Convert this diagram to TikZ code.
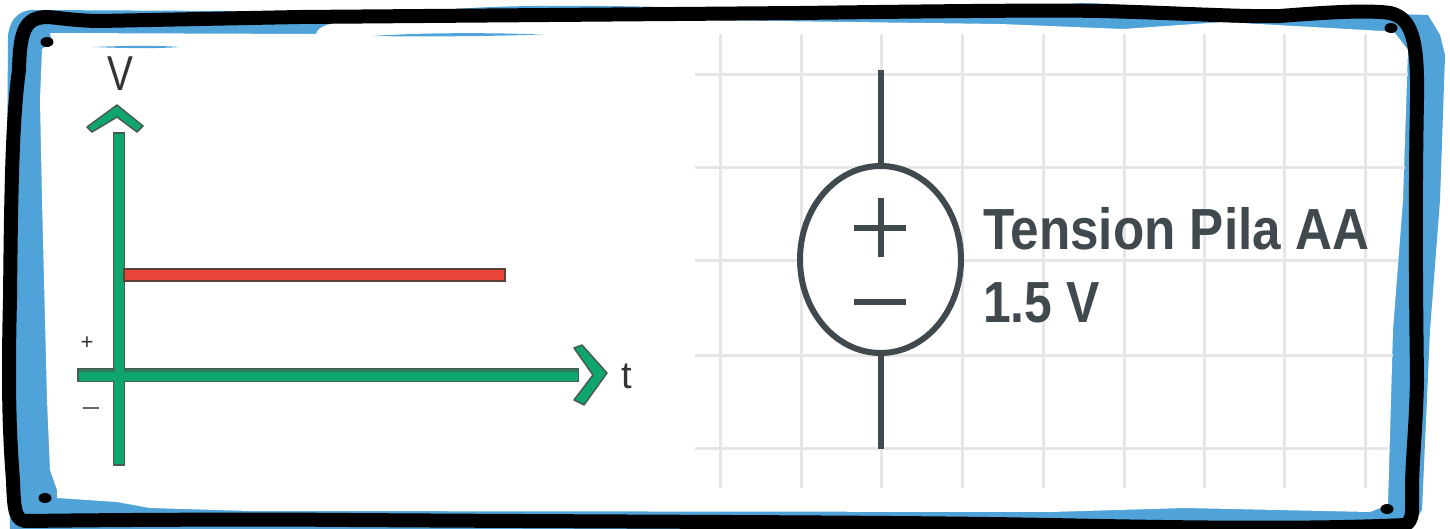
\documentclass[tikz,border=0pt]{standalone}
\usepackage{fontspec}
\setmainfont{Liberation Sans}
\usetikzlibrary{shapes.geometric}
\definecolor{fblue}{HTML}{4FA3D8}
\definecolor{axgreen}{HTML}{0FA56F}
\definecolor{axedge}{HTML}{4A5A52}
\definecolor{barred}{HTML}{EA4438}
\definecolor{baredge}{HTML}{5A4036}
\definecolor{gridc}{HTML}{E6E6E8}
\definecolor{symc}{HTML}{3F494E}
\tikzset{
  x=1pt,y=-1pt,
  gridline/.style={draw=gridc,line width=3pt},
  sym/.style={draw=symc,line width=6pt},
  axis/.style={draw=axedge,fill=axgreen,line width=1.5pt,line join=round},
  pin/.style={fill=black,ellipse,inner sep=0pt,minimum width=13pt,minimum height=10pt,draw=none},
  label/.style={inner sep=0pt,text=symc,font=\bfseries\fontsize{58}{58}\selectfont},
  scan/.style={inner sep=0pt,text=black!80}
}
\begin{document}
\begin{tikzpicture}
\useasboundingbox (0,0) rectangle (1450,529);
\fill[white] (0,0) rectangle (1450,529);
% blue backing
\fill[fblue] (8,38) .. controls (8,22) and (18,10) .. (32,10) -- (430,12) .. controls (480,4) and (600,5) .. (700,8) -- (1000,8) -- (1085,3) -- (1200,8) -- (1428,15)
  -- (1440,35) -- (1445,55) -- (1440,200) -- (1430,330) -- (1422,510) -- (1410,529) -- (10,529) -- (6,300) -- cycle;
% white interior
\fill[white] (42,49) -- (52,43) -- (50,33) -- (316,34) .. controls (318,26) and (330,23) .. (345,22) -- (700,20) -- (1000,24) -- (1123,29) -- (1223,22) -- (1383,31)
  -- (1395,33) -- (1408,50) -- (1403,200) -- (1393,330) -- (1388,505) -- (1370,512) -- (1185,508) -- (1050,512) -- (250,511) -- (150,508) -- (117,502) -- (57,498) -- (57,490) -- (50,470) -- (47,400) -- (42,200) -- (40,100) -- cycle;
\fill[fblue] (93,47) .. controls (130,45.5) and (160,45.5) .. (180,47) .. controls (160,48.5) and (130,48.5) .. cycle;
\fill[fblue] (373,36) .. controls (430,32) and (500,33) .. (542,34.5) .. controls (500,36) and (430,37) .. (373,36) -- cycle;
% grid
\foreach \gx in {720,801,881,962,1043,1124,1204,1284,1365}
  \draw[gridline] (\gx,34) -- (\gx,488);
\draw[gridline] (695,75) -- (1408,75);
\draw[gridline] (695,168) -- (1405,168);
\draw[gridline] (695,261) -- (1398,261);
\draw[gridline] (695,355) -- (1393,355);
\draw[gridline] (695,448) -- (1388,448);
% voltage source
\coordinate (stubT) at (880.5,70);
\coordinate (stubB) at (880.5,449);
\node[ellipse,sym,fill=white,minimum width=161pt,minimum height=187pt,inner sep=0pt] (src) at (880.5,259.5) {};
\draw[sym] (stubT) -- (src.north);
\draw[sym] (src.south) -- (stubB);
\draw[sym] (854,228) -- (906,228) (880.5,198) -- (880.5,257);
\draw[sym] (854,302) -- (906,302);
\node[label,anchor=base west] (l1) at (983,250) {\addfontfeatures{FakeStretch=0.883}Tension Pila AA};
\node[label,anchor=base west] (l2) at (983,322) {\addfontfeatures{FakeStretch=0.86}1.5 V};
% graph
\fill[axis] (113.5,133) rectangle (124.5,465);
\fill[axis] (78,368.5) rectangle (578.5,381.5);
\fill[axgreen] (114.5,134) rectangle (123.5,464);
\fill[axgreen] (79,373) rectangle (577.5,380.5);
\draw[axedge,line width=3pt,opacity=.6] (78,370.5) -- (578,370.5);
\fill[axgreen] (114.5,369) rectangle (123.5,381);
\fill[axis] (87,127) -- (117,105) -- (143,126) -- (137,132) -- (117,117) -- (92,132) -- cycle;
\fill[axis] (574,348) -- (582,345) -- (607,373) -- (584,405) -- (574,400) -- (593,375) -- cycle;
\fill[draw=baredge,fill=barred,line width=2pt] (124,269) rectangle (505,281);
\node[scan,font=\fontsize{49}{49}\selectfont] (vl) at (120,74) {\addfontfeatures{FakeStretch=0.79}V};
\node[scan,font=\fontsize{38}{38}\selectfont] (tl) at (627,376) {t};
\node[scan,font=\fontsize{22}{22}\selectfont] (pl) at (87,343) {+};
\draw[black!60,line width=2pt] (83,408) -- (99,408);
% black frame
\draw[black,line width=14pt,line join=round,line cap=round]
  (19,70) .. controls (20,30) and (25,17) .. (48,17)
  .. controls (60,18) and (80,21) .. (100,21)
  -- (300,17) -- (800,13)
  .. controls (950,11) and (1050,10) .. (1100,11)
  .. controls (1180,13) and (1240,17) .. (1280,16)
  .. controls (1330,12) and (1370,10) .. (1390,13)
  .. controls (1412,18) and (1418,40) .. (1417,100)
  .. controls (1415,200) and (1416,300) .. (1417,380)
  .. controls (1416,430) and (1412,460) .. (1412,490)
  .. controls (1412,510) and (1414,520) .. (1405,525)
  .. controls (1300,530) and (1150,527) .. (1050,525)
  .. controls (900,522) and (650,522) .. (350,520)
  .. controls (250,519) and (100,520) .. (28,521)
  .. controls (15,522) and (14,510) .. (13,480)
  .. controls (9,430) and (8,380) .. (10,300)
  .. controls (11,200) and (12,120) .. (19,70);
% pins
\node[pin] (p1) at (47,42) {};
\node[pin] (p2) at (1391,28) {};
\node[pin] (p3) at (45,498) {};
\node[pin] (p4) at (1387,509) {};
\end{tikzpicture}
\end{document}
